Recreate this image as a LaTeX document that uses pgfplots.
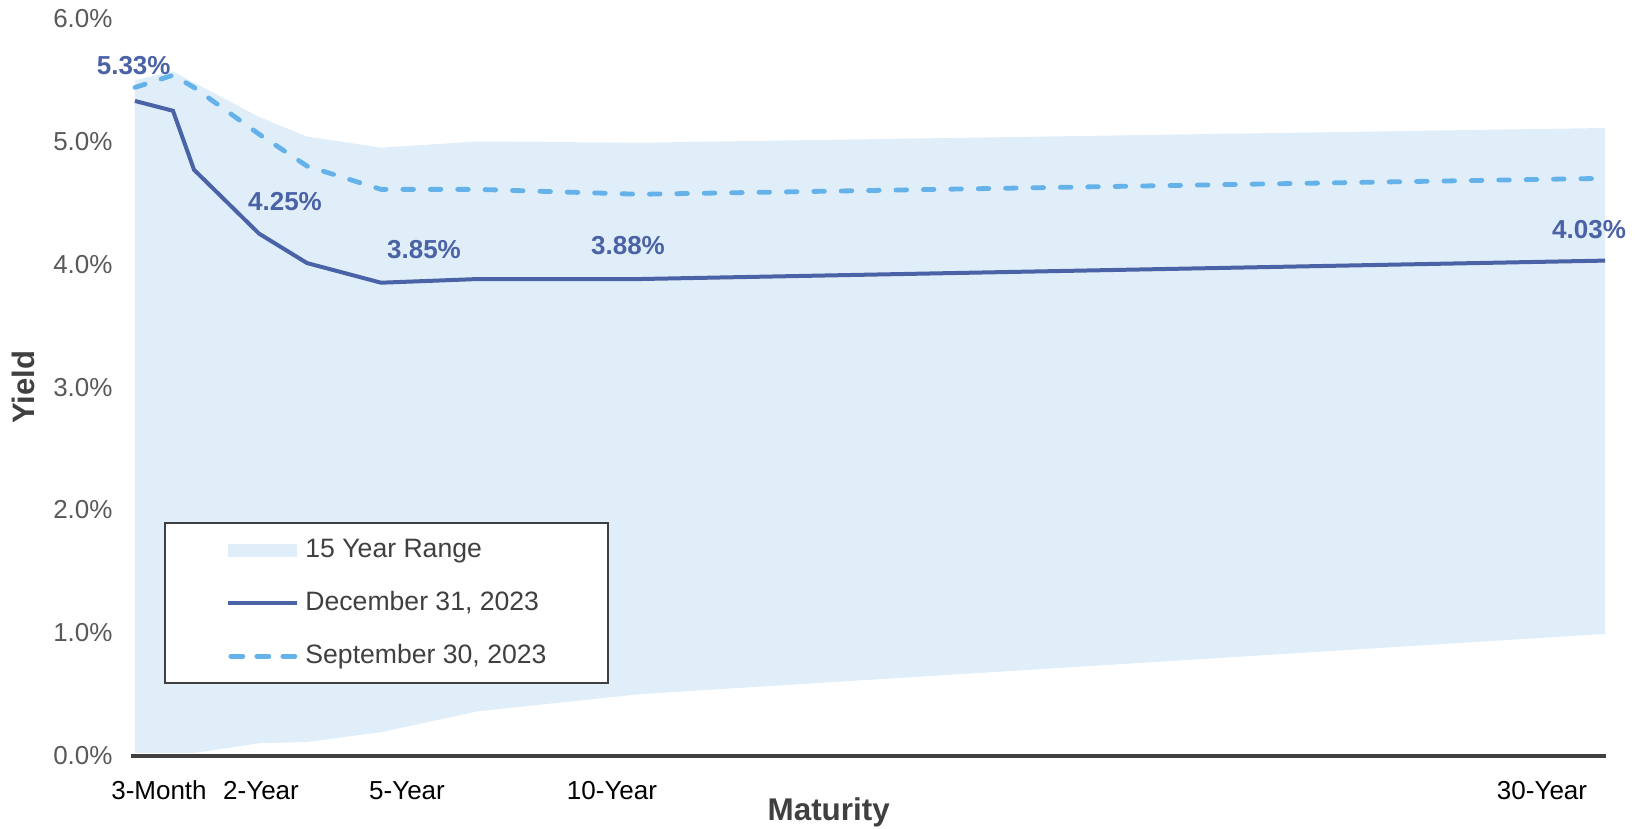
\documentclass[border=0pt]{standalone}
\usepackage{fontspec}
\setmainfont{Liberation Sans}
\usepackage{pgfplots}
\pgfplotsset{compat=1.18}
\definecolor{band}{HTML}{E0EEF9}
\definecolor{solidc}{HTML}{4A62A6}
\definecolor{dashc}{HTML}{64B2E9}
\definecolor{axisc}{HTML}{404040}
\definecolor{tickc}{HTML}{595959}
\begin{document}
\begin{tikzpicture}
\begin{axis}[
  width=737.5pt, height=368.4pt, scale only axis,
  xmin=131, xmax=1606, ymin=0, ymax=6,
  clip=false,
  axis x line*=bottom, axis y line*=left,
  every outer x axis line/.append style={-},
  every outer y axis line/.append style={-},
  x axis line style={line width=2pt, color=axisc, -},
  y axis line style={draw=none},
  major tick length=0pt,
  ytick={0,1,2,3,4,5,6},
  yticklabel={\pgfmathprintnumber[fixed,fixed zerofill,precision=1]{\tick}\%},
  /pgf/number format/assume math mode=true,
  yticklabel style={font=\fontsize{13}{15}\selectfont, text=tickc, xshift=-5.7pt},
  xtick={159,261,407,612,1542},
  xticklabels={3-Month,2-Year,5-Year,10-Year,30-Year},
  xticklabel style={font=\fontsize{13}{15}\selectfont, text=black, anchor=center, yshift=-17.6pt},
  xlabel={Maturity}, ylabel={Yield},
  every axis x label/.style={at={(axis description cs:0.473,-0.0775)}, anchor=center, font=\fontsize{15.7}{18}\selectfont\bfseries, text=axisc},
  every axis y label/.style={at={(axis description cs:-0.0732,0.5)}, anchor=center, rotate=90, font=\fontsize{15.5}{18}\selectfont\bfseries, text=axisc},
  legend style={at={(axis description cs:0.0224,0.3169)}, anchor=north west,
    draw=axisc, line width=1pt, fill=white,
    inner xsep=30.7pt, inner ysep=7.5pt, row sep=14.3pt, column sep=3pt,
    nodes={inner sep=0pt, text height=9.5pt, text depth=2.7pt},
    font=\fontsize{13.3}{15}\selectfont, text=axisc},
  legend cell align=left,
]
\addplot[fill=band, draw=none,
  legend image code/.code={\fill[band] (0pt,-3.3pt) rectangle (34.5pt,3.3pt);}]
  coordinates {(135,5.50) (173,5.57) (194,5.48) (259,5.20) (307,5.04) (381,4.95) (478,5.00) (640,4.99) (1605,5.11)
               (1605,0.99) (640,0.50) (478,0.36) (381,0.19) (307,0.11) (259,0.10) (194,0.02) (173,0.02) (135,0.02)} -- cycle;
\addlegendentry{15 Year Range}
\addplot[solidc, line width=2pt, mark=none,
  legend image code/.code={\draw[solidc, line width=2pt] (0pt,0pt) -- (34.5pt,0pt);}]
  coordinates {(135,5.33) (173,5.25) (194,4.77) (259,4.25) (307,4.01) (381,3.85) (478,3.88) (640,3.88) (1605,4.03)};
\addlegendentry{December 31, 2023}
\addplot[dashc, line width=2.4pt, line cap=round, dash pattern=on 5.3pt off 8.4pt, mark=none,
  legend image code/.code={\draw[dashc, line width=2.4pt, line cap=round, dash pattern=on 6pt off 7pt] (1.2pt,0pt) -- (33.3pt,0pt);}]
  coordinates {(135,5.44) (173,5.54) (194,5.44) (259,5.06) (307,4.80) (381,4.61) (478,4.61) (640,4.57) (1605,4.70)};
\addlegendentry{September 30, 2023}
\begin{scope}[every node/.style={font=\fontsize{13}{15}\selectfont\bfseries, text=solidc, inner sep=0pt, anchor=center}]
\node at (axis cs:133.7,5.62) {5.33\%};
\node at (axis cs:285,4.51) {4.25\%};
\node at (axis cs:424,4.12) {3.85\%};
\node at (axis cs:628,4.15) {3.88\%};
\node at (axis cs:1589,4.28) {4.03\%};
\end{scope}
\end{axis}
\pgfresetboundingbox
\path ([xshift=-65.5pt,yshift=-36.75pt]current axis.south west) rectangle ([xshift=18pt,yshift=9.35pt]current axis.north east);
\end{tikzpicture}
\end{document}
